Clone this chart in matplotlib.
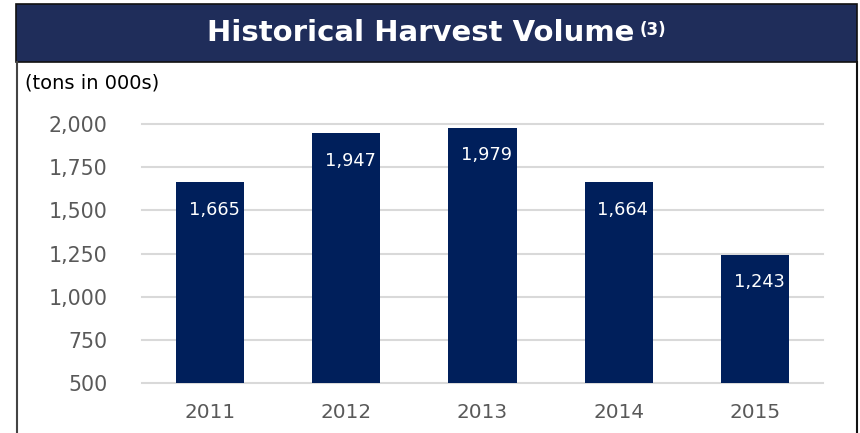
import matplotlib.pyplot as plt
from matplotlib.patches import Rectangle
from matplotlib.lines import Line2D

# ---- data ----
years = ['2011', '2012', '2013', '2014', '2015']
volume = [1665, 1947, 1979, 1664, 1243]
yticks = [500, 750, 1000, 1250, 1500, 1750, 2000]

W, H = 860, 433
NAVY = '#1F2D5A'
BAR = '#001F5B'
GRAY = '#595959'

plt.rcParams['font.family'] = ['DejaVu Sans']

fig = plt.figure(figsize=(W / 100, H / 100), dpi=100)


def fx(px):
    return px / W


def fy(py):
    return 1 - py / H


# banner + outer frame
fig.patches.append(Rectangle((fx(16), fy(62)), fx(841), 58 / H, transform=fig.transFigure,
                             facecolor=NAVY, edgecolor='#111111', linewidth=1.2, zorder=0))
fig.lines.append(Line2D([fx(17), fx(17)], [fy(62), 0], transform=fig.transFigure,
                        color='#444444', linewidth=1.5))
fig.lines.append(Line2D([fx(856.5), fx(856.5)], [fy(62), 0], transform=fig.transFigure,
                        color='#111111', linewidth=1.5))

fig.text(fx(421), fy(33), 'Historical Harvest Volume', color='white', fontsize=21,
         fontweight='bold', ha='center', va='center')
fig.text(fx(640), fy(30), '(3)', color='white', fontsize=12, fontweight='bold',
         ha='left', va='center')
fig.text(fx(25), fy(83), '(tons in 000s)', color='black', fontsize=14, ha='left', va='center')

# chart area
ax = fig.add_axes([fx(142), fy(383), fx(823 - 142), (383 - 124) / H])
x = range(len(years))
bars = ax.bar(x, volume, width=0.5, color=BAR, zorder=2)
for i, v in enumerate(volume):
    ax.annotate(f'{v:,}', (i, v), xytext=(3, -20), textcoords='offset points',
                ha='center', va='center', color='white', fontsize=12.8, zorder=3)

ax.set_xlim(-0.5, len(years) - 0.5)
ax.set_ylim(500, 2000)
ax.set_yticks(yticks)
ax.set_yticklabels([f'{t:,}' for t in yticks])
ax.set_xticks(list(x))
ax.set_xticklabels(years)
ax.tick_params(axis='y', length=0, labelsize=14.8, colors=GRAY, pad=25)
ax.tick_params(axis='x', length=0, labelsize=14.4, colors=GRAY, pad=14.5)
ax.yaxis.grid(True, color='#D9D9D9', linewidth=1.5, zorder=0)
for gl in ax.get_ygridlines():
    gl.set_clip_on(False)
ax.set_axisbelow(True)
for s in ax.spines.values():
    s.set_visible(False)

fig.savefig('out.png', dpi=100)
